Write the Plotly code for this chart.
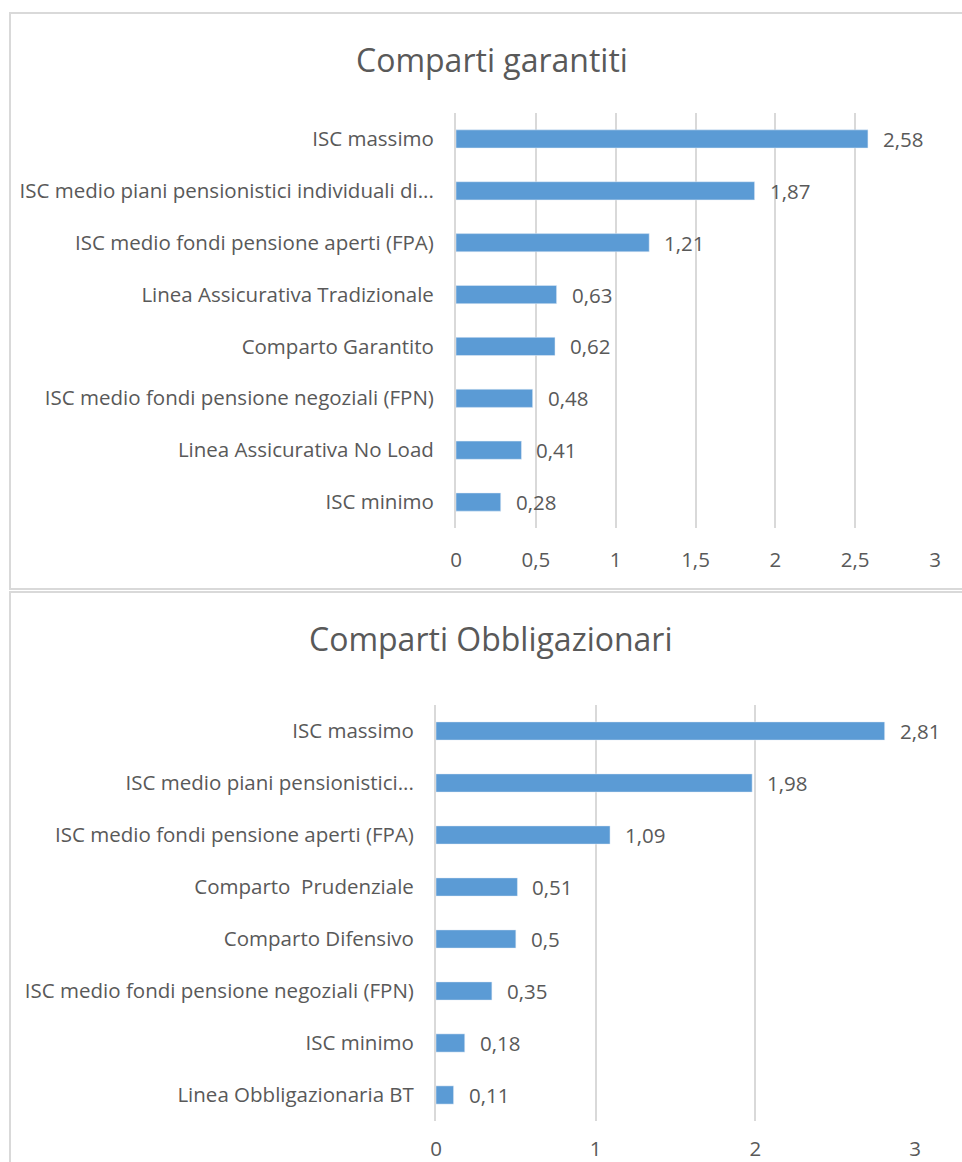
import plotly.graph_objects as go

# Comparti garantiti
garantiti_labels = [
    "ISC massimo",
    "ISC medio piani pensionistici individuali di...",
    "ISC medio fondi pensione aperti (FPA)",
    "Linea Assicurativa Tradizionale",
    "Comparto Garantito",
    "ISC medio fondi pensione negoziali (FPN)",
    "Linea Assicurativa No Load",
    "ISC minimo",
]
garantiti_values = [2.58, 1.87, 1.21, 0.63, 0.62, 0.48, 0.41, 0.28]

# Comparti Obbligazionari
obblig_labels = [
    "ISC massimo",
    "ISC medio piani pensionistici...",
    "ISC medio fondi pensione aperti (FPA)",
    "Comparto  Prudenziale",
    "Comparto Difensivo",
    "ISC medio fondi pensione negoziali (FPN)",
    "ISC minimo",
    "Linea Obbligazionaria BT",
]
obblig_values = [2.81, 1.98, 1.09, 0.51, 0.50, 0.35, 0.18, 0.11]

top_ticks = [0, 0.5, 1, 1.5, 2, 2.5, 3]
bottom_ticks = [0, 1, 2, 3]

W, H = 962, 1162
BAR = "#5B9BD5"
TXT = "#595959"
GRID = "#D9D9D9"
FONT = "Open Sans"


def fx(px):
    return px / W


def fy(px):
    return 1 - px / H


def fmt(v):
    return str(v).replace(".", ",")


fig = go.Figure()

fig.add_trace(go.Bar(
    x=garantiti_values, y=garantiti_labels, orientation="h",
    marker=dict(color=BAR), xaxis="x", yaxis="y", showlegend=False,
    hoverinfo="skip",
))
fig.add_trace(go.Bar(
    x=obblig_values, y=obblig_labels, orientation="h",
    marker=dict(color=BAR), xaxis="x2", yaxis="y2", showlegend=False,
    hoverinfo="skip",
))

label_font = dict(family=FONT, size=20.5, color=TXT)

annotations = []
for lab, v in zip(garantiti_labels, garantiti_values):
    annotations.append(dict(x=v, y=lab, xref="x", yref="y", text=fmt(v),
                            showarrow=False, xanchor="left", xshift=13,
                            font=label_font))
for lab, v in zip(obblig_labels, obblig_values):
    annotations.append(dict(x=v, y=lab, xref="x2", yref="y2", text=fmt(v),
                            showarrow=False, xanchor="left", xshift=13,
                            font=label_font))

title_font = dict(family=FONT, size=32, color=TXT)
annotations.append(dict(x=fx(492), y=fy(60), xref="paper", yref="paper",
                        text="Comparti garantiti", showarrow=False,
                        xanchor="center", yanchor="middle", font=title_font))
annotations.append(dict(x=fx(491), y=fy(638), xref="paper", yref="paper",
                        text="Comparti Obbligazionari", showarrow=False,
                        xanchor="center", yanchor="middle", font=title_font))

shapes = [
    dict(type="rect", xref="paper", yref="paper",
         x0=fx(10), x1=fx(975), y0=fy(13), y1=fy(589),
         line=dict(color=GRID, width=2)),
    dict(type="rect", xref="paper", yref="paper",
         x0=fx(10), x1=fx(975), y0=fy(592), y1=fy(1175),
         line=dict(color=GRID, width=2)),
]

axis_font = dict(family=FONT, size=20.5, color=TXT)

fig.update_layout(
    width=W, height=H,
    margin=dict(l=0, r=0, t=0, b=0, autoexpand=False),
    paper_bgcolor="white", plot_bgcolor="white",
    separators=",.",
    bargap=0.65,
    annotations=annotations,
    shapes=shapes,
    xaxis=dict(domain=[fx(456), fx(935)], range=[0, 3], anchor="y",
               tickvals=top_ticks, showgrid=True, gridcolor=GRID, gridwidth=2,
               zeroline=False, showline=False, ticks="", automargin=False,
               ticklabelstandoff=17, tickfont=axis_font, fixedrange=True),
    yaxis=dict(domain=[fy(528), fy(113)], anchor="x", autorange="reversed",
               showgrid=False, zeroline=False, showline=True, automargin=False,
               linecolor=GRID, linewidth=2, ticks="",
               ticklabelstandoff=16, tickfont=axis_font),
    xaxis2=dict(domain=[fx(436), fx(915)], range=[0, 3], anchor="y2",
                tickvals=bottom_ticks, showgrid=True, gridcolor=GRID, gridwidth=2,
                zeroline=False, showline=False, ticks="", automargin=False,
                ticklabelstandoff=13, tickfont=axis_font),
    yaxis2=dict(domain=[fy(1121), fy(705)], anchor="x2", autorange="reversed",
                showgrid=False, zeroline=False, showline=True, automargin=False,
                linecolor=GRID, linewidth=2, ticks="",
                ticklabelstandoff=16, tickfont=axis_font),
)

fig.write_html("out.html")
